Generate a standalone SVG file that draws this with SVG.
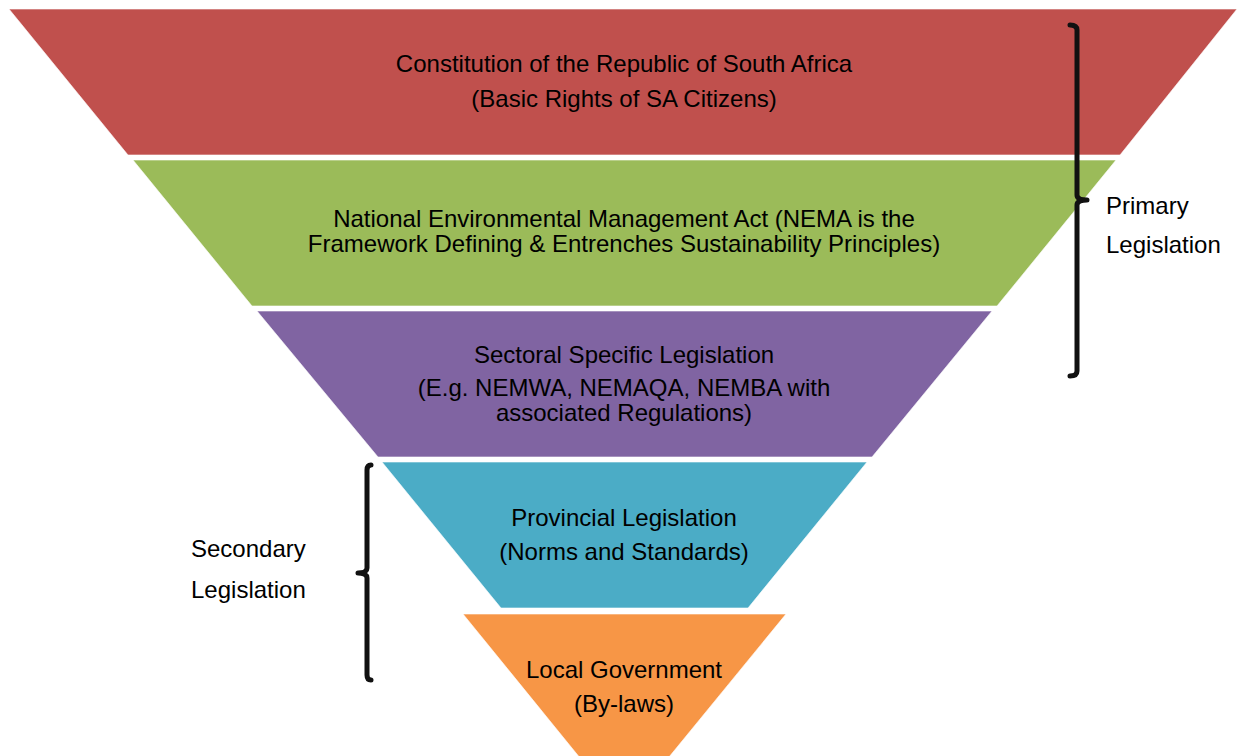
<svg xmlns="http://www.w3.org/2000/svg" width="1237" height="756" viewBox="0 0 1237 756">
  <style>
    .band { stroke: #ffffff; stroke-width: 1; stroke-opacity: 0.6; }
    .lbl { font-family: "Liberation Sans", Arial, sans-serif; font-size: 24px; fill: #000000; text-anchor: middle; }
    .side { font-family: "Liberation Sans", Arial, sans-serif; font-size: 24px; fill: #000000; }
    .brace { fill: none; stroke: #111111; stroke-width: 5; stroke-linecap: round; stroke-linejoin: round; }
  </style>
  <rect width="1237" height="756" fill="#ffffff"/>

  <g id="constitution">
    <polygon class="band" fill="#C0504D" points="9,9 1237,9 1120,155 128,155"/>
    <text class="lbl" x="624" y="71.5">Constitution of the Republic of South Africa</text>
    <text class="lbl" x="624" y="106.5">(Basic Rights of SA Citizens)</text>
  </g>

  <g id="nema">
    <polygon class="band" fill="#9BBB59" points="133,160 1116,160 997,306 252,306"/>
    <text class="lbl" x="624" y="226.5">National Environmental Management Act (NEMA is the</text>
    <text class="lbl" x="624" y="251.5">Framework Defining &amp; Entrenches Sustainability Principles)</text>
  </g>

  <g id="sectoral">
    <polygon class="band" fill="#8064A2" points="257,311 992,311 872,457 378,457"/>
    <text class="lbl" x="624" y="362.5">Sectoral Specific Legislation</text>
    <text class="lbl" x="624" y="396">(E.g. NEMWA, NEMAQA, NEMBA with</text>
    <text class="lbl" x="624" y="421">associated Regulations)</text>
  </g>

  <g id="provincial">
    <polygon class="band" fill="#4BACC6" points="382,462 867,462 748,608 501,608"/>
    <text class="lbl" x="624" y="525.5">Provincial Legislation</text>
    <text class="lbl" x="624" y="559.5">(Norms and Standards)</text>
  </g>

  <g id="local">
    <polygon class="band" fill="#F79646" points="463,614 786,614 624,812"/>
    <text class="lbl" x="624" y="677.5">Local Government</text>
    <text class="lbl" x="624" y="711.5">(By-laws)</text>
  </g>

  <g id="connectors">
    <!-- right brace: primary legislation -->
    <path class="brace" d="M1070,25 Q1077,25 1077,30 L1077,195 Q1077,200 1087,200 Q1077,200 1077,205 L1077,371 Q1077,376 1070,376"/>
    <!-- left brace: secondary legislation -->
    <path class="brace" d="M371,465 Q367,465 367,470 L367,568 Q367,573 358,573 Q367,573 367,578 L367,675 Q367,680 371,680"/>
  </g>

  <g id="primary-label">
    <text class="side" x="1106" y="213.5">Primary</text>
    <text class="side" x="1106" y="253">Legislation</text>
  </g>

  <g id="secondary-label">
    <text class="side" x="191" y="556.5">Secondary</text>
    <text class="side" x="191" y="597.5">Legislation</text>
  </g>
</svg>
